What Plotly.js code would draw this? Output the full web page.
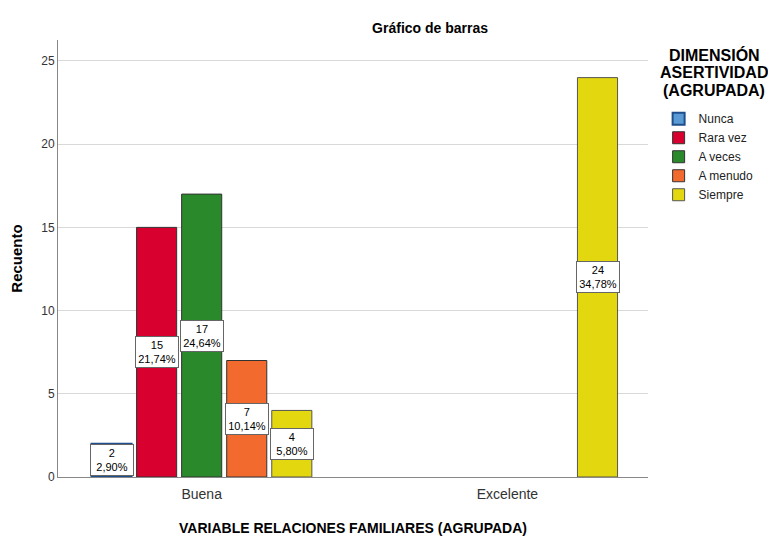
<!DOCTYPE html>
<html>
<head>
<meta charset="utf-8">
<script src="https://cdn.plot.ly/plotly-3.0.1.min.js"></script>
<style>html,body{margin:0;padding:0;background:#fff;}#chart{width:768px;height:538px;}</style>
</head>
<body>
<div id="chart"></div>
<script>
const categories = ["Buena", "Excelente"];
const seriesNames = ["Nunca", "Rara vez", "A veces", "A menudo", "Siempre"];
const nunca = [2, null];
const raraVez = [15, null];
const aVeces = [17, null];
const aMenudo = [7, null];
const siempre = [4, 24];
const percentLabels = [["2,90%", null], ["21,74%", null], ["24,64%", null], ["10,14%", null], ["5,80%", "34,78%"]];
const legendTitleLines = ["DIMENSIÓN", "ASERTIVIDAD", "(AGRUPADA)"];
const colors = ["#5b9bd5", "#d7002f", "#2a8a2b", "#f26a2e", "#e3d80f"];
const borders = ["#1f4e8c", "#333333", "#333333", "#333333", "#555555"];

const allSeries = [nunca, raraVez, aVeces, aMenudo, siempre];
const bargap = 0.263, groupgap = 0.11;
const traces = allSeries.map((vals, i) => ({
  type: "bar",
  name: seriesNames[i],
  x: [0, 1],
  y: vals,
  marker: {color: colors[i], line: {color: borders[i], width: i === 0 ? 2 : 1}},
  hoverinfo: "none"
}));

const annotations = [];
const slot = (1 - bargap) / seriesNames.length;
allSeries.forEach((vals, i) => {
  vals.forEach((v, c) => {
    if (v === null) return;
    annotations.push({
      x: c + (i - (seriesNames.length - 1) / 2) * slot,
      y: v / 2, xref: "x", yref: "y",
      text: v + "<br>" + percentLabels[i][c],
      showarrow: false,
      font: {family: "Liberation Sans, Arial, sans-serif", size: 11, color: "#000"},
      bgcolor: "#ffffff", bordercolor: "#666666", borderwidth: 1, borderpad: 2,
      width: 38, align: "center"
    });
  });
});
legendTitleLines.forEach((t, k) => {
  annotations.push({
    xref: "paper", yref: "paper", x: 1.112, y: 0.9657 - k * 0.0412, xanchor: "center", yanchor: "middle",
    text: "<b>" + t + "</b>", showarrow: false,
    font: {family: "Liberation Sans, Arial, sans-serif", size: 16, color: "#000"}
  });
});

const layout = {
  width: 768, height: 538,
  margin: {l: 58, r: 120, t: 40, b: 61, autoexpand: false},
  paper_bgcolor: "#fff", plot_bgcolor: "#fff",
  font: {family: "Liberation Sans, Arial, sans-serif", color: "#222"},
  title: {text: "<b>Gráfico de barras</b>", x: 0.56, xanchor: "center", y: 0.948, yanchor: "middle",
          font: {size: 14, color: "#000"}},
  barmode: "group", bargap: bargap, bargroupgap: groupgap,
  xaxis: {
    range: [-0.47, 1.46], tickvals: [0, 1], ticktext: categories,
    showline: true, linecolor: "#888", linewidth: 1, showgrid: false,
    ticks: "outside", ticklen: 4, tickcolor: "rgba(0,0,0,0)",
    tickfont: {size: 14, color: "#333"}, zeroline: false,
    title: {text: "<b>VARIABLE RELACIONES FAMILIARES (AGRUPADA)</b>", font: {size: 14, color: "#000"}, standoff: 22}
  },
  yaxis: {
    range: [0, 26.26], tickvals: [0, 5, 10, 15, 20, 25],
    showline: true, linecolor: "#888", linewidth: 1,
    showgrid: true, gridcolor: "#d9d9d9", zeroline: false, ticks: "",
    tickfont: {size: 12, color: "#333"},
    title: {text: "<b>Recuento</b>", font: {size: 15, color: "#000"}, standoff: 14}
  },
  legend: {
    x: 1.018, xanchor: "left", y: 0.853, yanchor: "top",
    font: {size: 12, color: "#222"}, tracegroupgap: 0, itemwidth: 30,
    bgcolor: "rgba(0,0,0,0)"
  },
  showlegend: true,
  annotations: annotations
};

Plotly.newPlot("chart", traces, layout, {staticPlot: true, displayModeBar: false});
</script>
</body>
</html>
